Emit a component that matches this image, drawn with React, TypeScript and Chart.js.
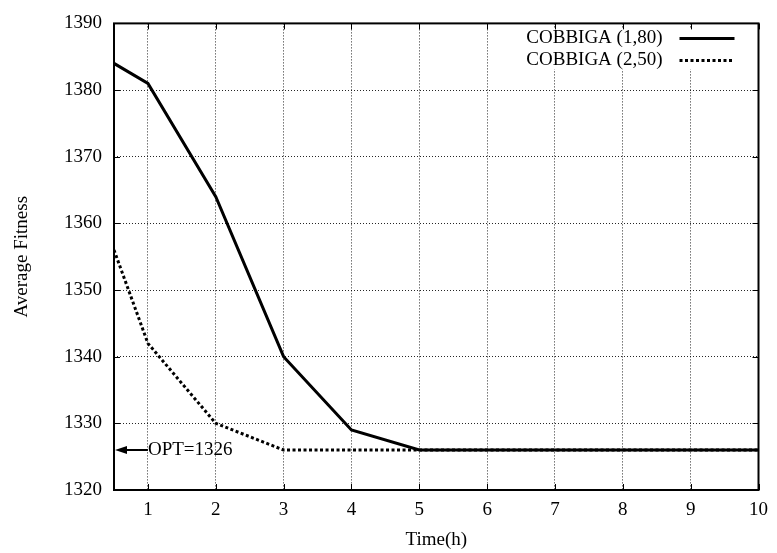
import React, { useEffect, useRef } from 'react';
import { Chart, registerables } from 'chart.js';

Chart.register(...registerables);

// ---- data ----
const timeHours = [0.5, 1, 2, 3, 4, 5, 6, 7, 8, 9, 10];
const cobbiga180 = [1384, 1381, 1364, 1340, 1329, 1326, 1326, 1326, 1326, 1326, 1326];
const cobbiga250 = [1356, 1342, 1330, 1326, 1326, 1326, 1326, 1326, 1326, 1326, 1326];
const seriesLabels = ['COBBIGA (1,80)', 'COBBIGA (2,50)'];
const xTicks = [1, 2, 3, 4, 5, 6, 7, 8, 9, 10];
const yTicks = [1320, 1330, 1340, 1350, 1360, 1370, 1380, 1390];
const xRange = [0.5, 10];
const yRange = [1320, 1390];
const optValue = 1326;
const optLabel = 'OPT=1326';
const optX = 1;
const xTitle = 'Time(h)';
const yTitle = 'Average Fitness';

const FONT_FAMILY = "'Liberation Serif', 'Times New Roman', serif";
const FONT_SIZE = 19;
const DOT_DASH = [3, 2.5];

function keyGeom(chart: any) {
  const a = chart.chartArea;
  const ctx = chart.ctx;
  ctx.save();
  ctx.font = `${FONT_SIZE}px ${FONT_FAMILY}`;
  const w = Math.max(...seriesLabels.map((s) => ctx.measureText(s).width));
  ctx.restore();
  const textRight = a.right - 96;
  const sampleL = a.right - 79;
  const sampleR = a.right - 24;
  const rows = [a.top + 15, a.top + 37];
  return {
    textRight,
    sampleL,
    sampleR,
    rows,
    box: { l: textRight - w - 10, r: a.right - 2, t: a.top + 5, b: a.top + 46 },
  };
}

const gnuplotPlugin = {
  id: 'gnuplotFrame',
  beforeDatasetsDraw(chart: any) {
    const { ctx } = chart;
    const g = keyGeom(chart);
    ctx.save();
    ctx.fillStyle = '#ffffff';
    ctx.fillRect(g.box.l, g.box.t, g.box.r - g.box.l, g.box.b - g.box.t);
    ctx.restore();
  },
  afterDatasetsDraw(chart: any) {
    const { ctx, chartArea: a } = chart;
    const xs = chart.scales.x;
    const ys = chart.scales.y;
    ctx.save();
    // inward ticks (mirrored)
    ctx.strokeStyle = '#000';
    ctx.lineWidth = 1;
    ctx.setLineDash([]);
    const tl = 6;
    ctx.beginPath();
    xTicks.forEach((v) => {
      const px = Math.round(xs.getPixelForValue(v)) + 0.5;
      ctx.moveTo(px, a.bottom);
      ctx.lineTo(px, a.bottom - tl);
      ctx.moveTo(px, a.top);
      ctx.lineTo(px, a.top + tl);
    });
    yTicks.forEach((v) => {
      const py = Math.round(ys.getPixelForValue(v)) + 0.5;
      ctx.moveTo(a.left, py);
      ctx.lineTo(a.left + tl, py);
      ctx.moveTo(a.right, py);
      ctx.lineTo(a.right - tl, py);
    });
    ctx.stroke();
    // border
    ctx.lineWidth = 2;
    ctx.strokeRect(a.left, a.top, a.right - a.left, a.bottom - a.top);

    // key
    const g = keyGeom(chart);
    ctx.font = `${FONT_SIZE}px ${FONT_FAMILY}`;
    ctx.fillStyle = '#000';
    ctx.textAlign = 'right';
    ctx.textBaseline = 'middle';
    seriesLabels.forEach((s, i) => {
      ctx.fillText(s, g.textRight, g.rows[i]);
      ctx.beginPath();
      ctx.lineWidth = 3;
      ctx.lineCap = 'butt';
      ctx.setLineDash(i === 0 ? [] : DOT_DASH);
      ctx.moveTo(g.sampleL, g.rows[i]);
      ctx.lineTo(g.sampleR, g.rows[i]);
      ctx.stroke();
    });
    ctx.setLineDash([]);

    // OPT arrow annotation
    const ay = ys.getPixelForValue(optValue);
    const ax = xs.getPixelForValue(optX);
    const tipX = a.left + 1;
    ctx.lineWidth = 2;
    ctx.beginPath();
    ctx.moveTo(ax, ay);
    ctx.lineTo(tipX + 10, ay);
    ctx.stroke();
    ctx.beginPath();
    ctx.moveTo(tipX, ay);
    ctx.lineTo(tipX + 12, ay - 4);
    ctx.lineTo(tipX + 12, ay + 4);
    ctx.closePath();
    ctx.fill();
    ctx.textAlign = 'left';
    ctx.fillText(optLabel, ax, ay);
    ctx.restore();
  },
};

export default function App() {
  const canvasRef = useRef<HTMLCanvasElement | null>(null);

  useEffect(() => {
    const canvas = canvasRef.current;
    if (!canvas) return;
    const chart = new Chart(canvas, {
      type: 'line',
      data: {
        datasets: [
          {
            label: seriesLabels[0],
            data: timeHours.map((t, i) => ({ x: t, y: cobbiga180[i] })),
            borderColor: '#000',
            borderWidth: 3,
            pointRadius: 0,
            tension: 0,
            fill: false,
            borderJoinStyle: 'miter',
          },
          {
            label: seriesLabels[1],
            data: timeHours.map((t, i) => ({ x: t, y: cobbiga250[i] })),
            borderColor: '#000',
            borderWidth: 3,
            borderDash: DOT_DASH,
            pointRadius: 0,
            tension: 0,
            fill: false,
          },
        ],
      },
      options: {
        responsive: false,
        animation: false,
        devicePixelRatio: 1,
        layout: { padding: { left: 0, right: 16, top: 20, bottom: 0 } },
        plugins: { legend: { display: false }, tooltip: { enabled: false } },
        scales: {
          x: {
            type: 'linear',
            min: xRange[0],
            max: xRange[1],
            afterBuildTicks: (s: any) => {
              s.ticks = xTicks.map((v) => ({ value: v }));
            },
            afterFit: (s: any) => {
              s.height = 63;
            },
            grid: { color: 'rgba(0,0,0,0.85)', lineWidth: 1, drawTicks: false },
            border: { display: false, dash: [1, 2] },
            ticks: {
              padding: 9,
              color: '#000',
              font: { family: FONT_FAMILY, size: FONT_SIZE },
              maxRotation: 0,
              autoSkip: false,
              callback: (v: any) => String(v),
            },
            title: {
              display: true,
              text: xTitle,
              color: '#000',
              font: { family: FONT_FAMILY, size: FONT_SIZE },
              padding: { top: 0, bottom: 1.5 },
            },
          },
          y: {
            type: 'linear',
            min: yRange[0],
            max: yRange[1],
            afterBuildTicks: (s: any) => {
              s.ticks = yTicks.map((v) => ({ value: v }));
            },
            afterFit: (s: any) => {
              s.width = 114;
            },
            grid: { color: 'rgba(0,0,0,0.85)', lineWidth: 1, drawTicks: false },
            border: { display: false, dash: [1, 2] },
            ticks: {
              padding: 12,
              color: '#000',
              font: { family: FONT_FAMILY, size: FONT_SIZE },
              autoSkip: false,
              callback: (v: any) => String(v),
            },
            title: {
              display: true,
              text: yTitle,
              color: '#000',
              font: { family: FONT_FAMILY, size: FONT_SIZE },
              padding: { top: 10.5, bottom: 0 },
            },
          },
        },
      },
      plugins: [gnuplotPlugin],
    });
    return () => chart.destroy();
  }, []);

  return (
    <div style={{ position: 'absolute', left: 0, top: 0, width: 777, height: 553, background: '#fff' }}>
      <canvas ref={canvasRef} width={777} height={553} style={{ display: 'block' }} />
    </div>
  );
}
